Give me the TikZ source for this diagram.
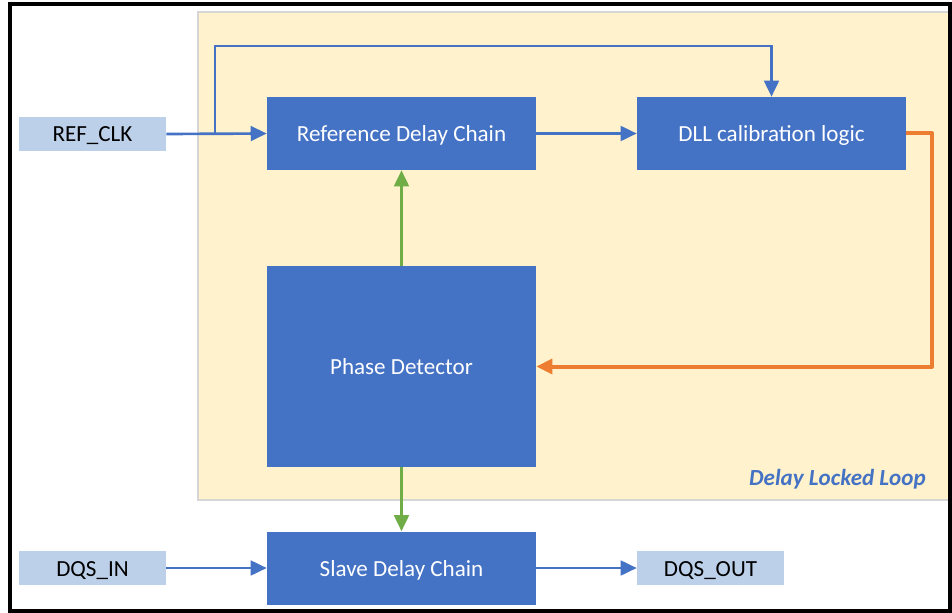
\documentclass[tikz,border=0pt]{standalone}
\usepackage{fontspec}
\setmainfont{Carlito}
\usetikzlibrary{arrows.meta}
\definecolor{boxblue}{HTML}{4472C4}
\definecolor{lblblue}{HTML}{BDD0EA}
\definecolor{dllyellow}{HTML}{FFF2CC}
\definecolor{dllgray}{HTML}{D6D6D6}
\definecolor{fbgreen}{HTML}{70AD47}
\definecolor{fborange}{HTML}{ED7D31}
\tikzset{
  blk/.style={draw=none, fill=boxblue, text=white, minimum width=201.75pt, minimum height=54.75pt, inner sep=0pt, text height=12pt, text depth=0pt, font=\fontsize{17.3}{20}\selectfont},
  lbl/.style={draw=none, fill=lblblue, text=black, minimum width=110.25pt, minimum height=25.5pt, inner sep=0pt, text height=12pt, text depth=0pt, font=\fontsize{17.3}{20}\selectfont},
  bluearr/.style={draw=boxblue, line width=2pt, -{Triangle[length=12pt,width=11pt]}},
  greenarr/.style={draw=fbgreen, line width=2pt, -{Triangle[length=12pt,width=11pt]}},
  orangearr/.style={draw=fborange, line width=3pt, line join=round, -{Triangle[length=12pt,width=11pt]}},
}
\begin{document}
\begin{tikzpicture}[x=0.75pt,y=-0.75pt]
\useasboundingbox (0,0) rectangle (952,613);
\fill[white] (0,0) rectangle (952,613);
% DLL region
\draw[fill=dllyellow, draw=dllgray, line width=1pt] (198,12) rectangle (951,500);
\node[font=\fontsize{17.3}{20}\selectfont\bfseries\itshape, text=boxblue, anchor=base east, inner sep=0pt] (dlltitle) at (926,485) {Delay Locked Loop};
% blocks
\node[lbl] (refclk) at (92.5,134) {REF\_CLK};
\node[blk] (rdc) at (401.5,133.5) {Reference Delay Chain};
\node[blk] (cal) at (771.5,133.5) {DLL calibration logic};
\node[blk, minimum height=150.75pt] (pd) at (401.5,366.5) {Phase Detector};
\node[blk] (sdc) at (401.5,568) {Slave Delay Chain};
\node[lbl] (dqsin) at (92.5,568) {DQS\_IN};
\node[lbl] (dqsout) at (710.5,568) {DQS\_OUT};
% connectors
\coordinate (br) at (215,134);
\draw[bluearr] (refclk.east) -- (rdc.west);
\draw[bluearr, line join=miter] (br) |- (215,46) -| (cal.north);
\draw[bluearr] (rdc.east) -- (cal.west);
\draw[orangearr] (cal.east) -- (932,133.5) |- (pd.east);
\draw[greenarr] (pd.north) -- (rdc.south);
\draw[greenarr] (pd.south) -- (sdc.north);
\draw[bluearr] (dqsin.east) -- (sdc.west);
\draw[bluearr] (sdc.east) -- (dqsout.west);
% frame
\draw[black, line width=3pt] (10,4) rectangle (950,611);
\end{tikzpicture}
\end{document}
